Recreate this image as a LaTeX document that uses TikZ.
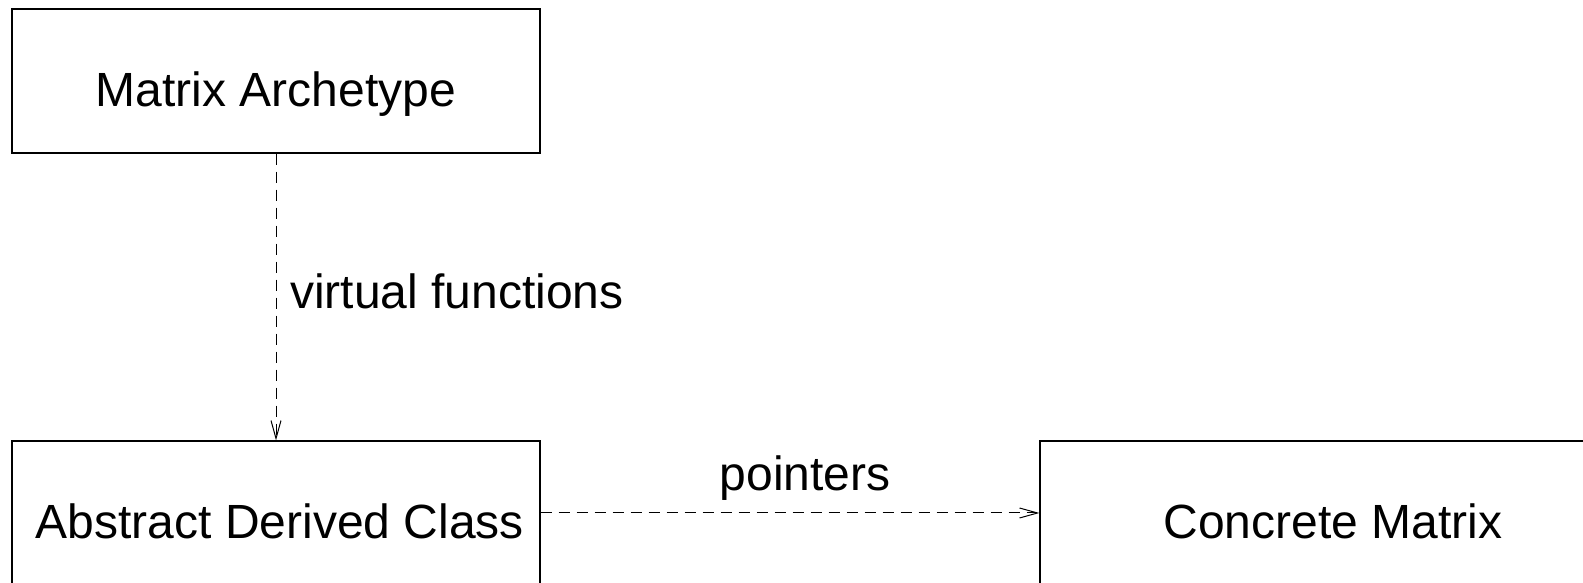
\documentclass[tikz,border=0pt]{standalone}
\usepackage{fontspec}
\setmainfont{Liberation Sans}
\usetikzlibrary{arrows.meta}
\begin{document}
\begin{tikzpicture}[x=1pt,y=1pt,
  classbox/.style={draw, line width=1.2pt, rectangle, inner sep=0pt,
    minimum height=144pt, text height=52pt, text depth=0pt,
    font=\fontsize{48}{58}\selectfont},
  link/.style={line width=1pt, dash pattern=on 11pt off 7pt,
    -{Straight Barb[length=18pt,width=10pt,line width=1pt]}},
  lbl/.style={inner sep=0pt, font=\fontsize{48}{58}\selectfont}]
\useasboundingbox (0,0) rectangle (1583,583);
\clip (0,0) rectangle (1583,583);
\node[classbox, minimum width=528pt] (arch) at (276,502) {Matrix Archetype};
\node[classbox, minimum width=528pt] (adc) at (276,70) {\hspace{8pt}Abstract Derived Class};
\node[classbox, minimum width=586pt] (conc) at (1333,70) {Concrete Matrix};
\draw[link] (arch.south) -- (adc.north);
\draw[link] (adc.east) -- (conc.west);
\node[lbl, anchor=base west] (vf) at (290,274) {virtual functions};
\node[lbl, anchor=base] (ptr) at (805,92) {pointers};
\end{tikzpicture}
\end{document}
